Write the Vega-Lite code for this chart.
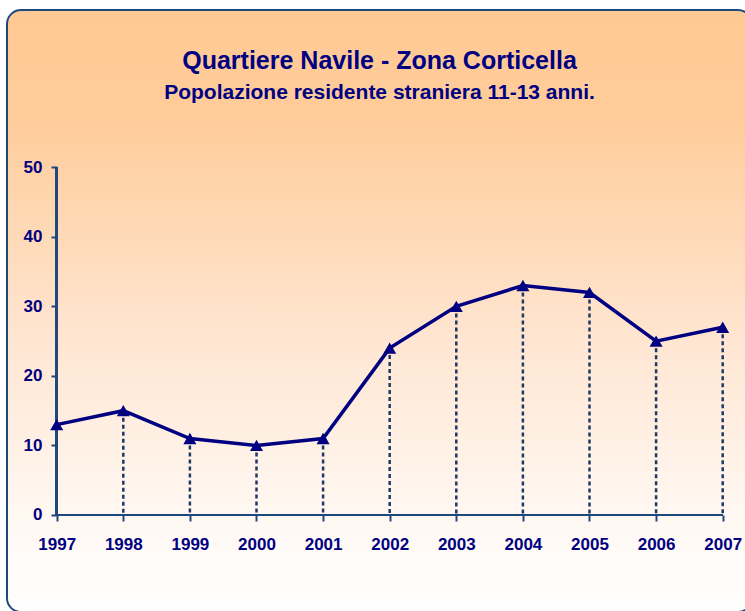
{
  "$schema": "https://vega.github.io/schema/vega-lite/v6.json",
  "autosize": {"type": "none"},
  "padding": {"left": 7, "top": 10, "right": 0, "bottom": 0},
  "width": 745,
  "height": 602,
  "background": "#ffffff",
  "view": {
    "fill": {"gradient": "linear", "x1": 0, "y1": 0, "x2": 0, "y2": 1,
      "stops": [
        {"offset": 0, "color": "#FFC993"},
        {"offset": 0.18, "color": "#FFCC9A"},
        {"offset": 0.55, "color": "#FFE6D2"},
        {"offset": 0.86, "color": "#FFF9F4"},
        {"offset": 1, "color": "#FFFFFF"}
      ]},
    "stroke": "#1F497D",
    "strokeWidth": 2,
    "cornerRadius": 14
  },
  "title": {
    "text": "Quartiere Navile - Zona Corticella",
    "subtitle": "Popolazione residente straniera 11-13 anni.",
    "font": "Liberation Sans",
    "fontSize": 25,
    "fontWeight": "bold",
    "color": "#000080",
    "subtitleFont": "Liberation Sans",
    "subtitleFontSize": 21,
    "subtitleFontWeight": "bold",
    "subtitleColor": "#000080",
    "subtitlePadding": 8,
    "anchor": "middle",
    "frame": "group",
    "offset": -93
  },
  "data": {
    "values": [
      {"anno": 1997, "valore": 13},
      {"anno": 1998, "valore": 15},
      {"anno": 1999, "valore": 11},
      {"anno": 2000, "valore": 10},
      {"anno": 2001, "valore": 11},
      {"anno": 2002, "valore": 24},
      {"anno": 2003, "valore": 30},
      {"anno": 2004, "valore": 33},
      {"anno": 2005, "valore": 32},
      {"anno": 2006, "valore": 25},
      {"anno": 2007, "valore": 27}
    ]
  },
  "encoding": {
    "x": {
      "field": "anno", "type": "quantitative",
      "scale": {"domain": [1996.2538, 2007.44], "nice": false, "zero": false},
      "axis": {
        "title": null,
        "values": [1997, 1998, 1999, 2000, 2001, 2002, 2003, 2004, 2005, 2006, 2007],
        "format": "d",
        "domain": false, "grid": false,
        "offset": -97,
        "tickSize": 6, "tickWidth": 2, "tickColor": "#1F497D",
        "labelFont": "Liberation Sans", "labelFontWeight": "bold", "labelFontSize": 17,
        "labelColor": "#000080", "labelPadding": 15,
        "labelFlush": false, "labelOverlap": false, "labelBound": false
      }
    },
    "y": {
      "field": "valore", "type": "quantitative",
      "scale": {"domain": [-13.95, 72.62], "nice": false, "zero": false},
      "axis": {
        "title": null,
        "values": [0, 10, 20, 30, 40, 50],
        "domain": false, "grid": false,
        "offset": -50,
        "tickSize": 6, "tickWidth": 2, "tickColor": "#1F497D",
        "labelFont": "Liberation Sans", "labelFontWeight": "bold", "labelFontSize": 17,
        "labelColor": "#000080", "labelPadding": 9,
        "labelFlush": false, "labelOverlap": false, "labelBound": false
      }
    }
  },
  "layer": [
    {
      "mark": {"type": "rule", "color": "#1F3864", "strokeWidth": 2.5, "strokeDash": [4, 3]},
      "encoding": {"y2": {"datum": 0}}
    },
    {
      "mark": {"type": "rule", "color": "#1F497D", "strokeWidth": 2},
      "encoding": {"x": {"datum": 1997, "type": "quantitative"}, "y": {"datum": 0, "type": "quantitative"}, "y2": {"datum": 50}}
    },
    {
      "mark": {"type": "rule", "color": "#1F497D", "strokeWidth": 2},
      "encoding": {"y": {"datum": 0, "type": "quantitative"}, "x": {"datum": 1997, "type": "quantitative"}, "x2": {"datum": 2007}}
    },
    {
      "mark": {"type": "line", "color": "#000080", "strokeWidth": 3.5}
    },
    {
      "mark": {"type": "point", "shape": "triangle-up", "filled": true, "color": "#000080", "opacity": 1, "size": 170}
    }
  ]
}
